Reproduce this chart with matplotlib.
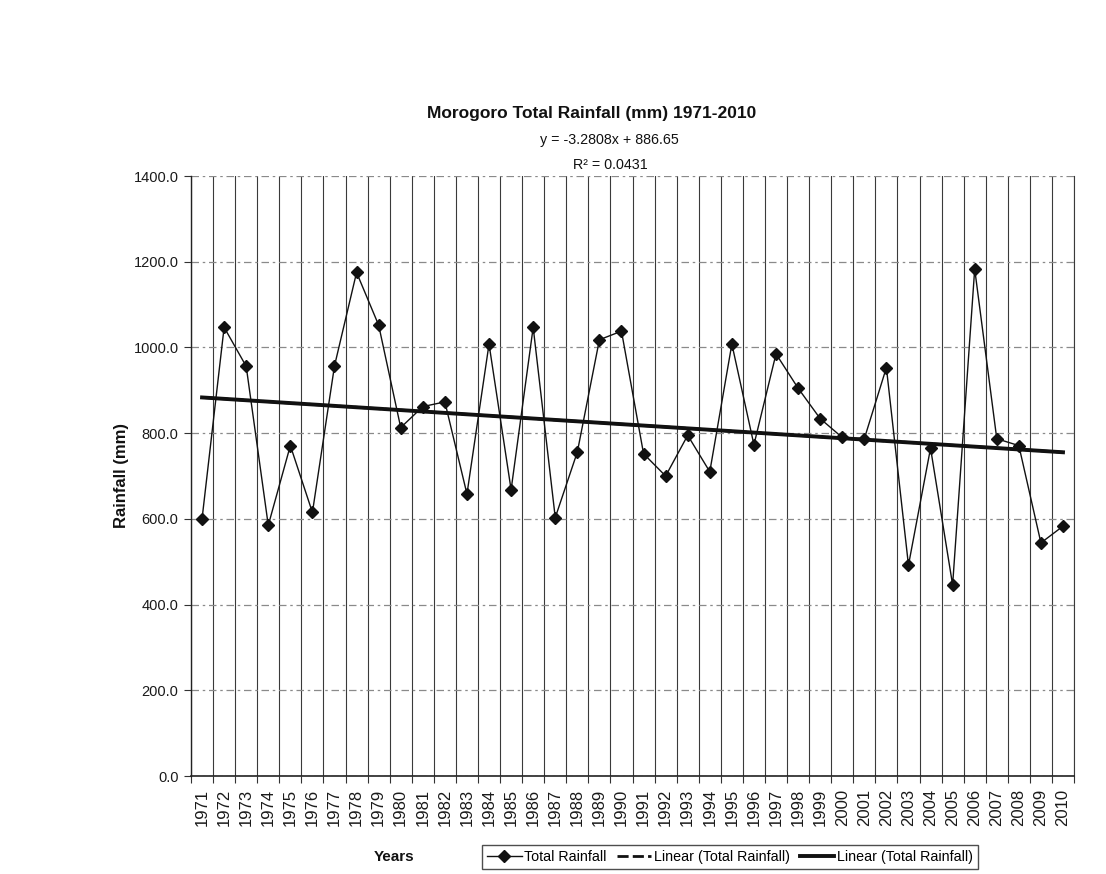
import matplotlib
matplotlib.use("Agg")
import matplotlib.pyplot as plt
from matplotlib.ticker import FixedLocator, FormatStrFormatter
import numpy as np

plt.rcParams["font.family"] = ["Liberation Sans", "DejaVu Sans"]

# Annual rainfall totals at Morogoro (mm)
years = list(range(1971, 2011))
rainfall = [
    600, 1047, 956, 585, 771, 615, 957, 1175, 1052, 813,
    862, 873, 658, 1008, 668, 1047, 603, 756, 1018, 1038,
    752, 700, 795, 710, 1008, 773, 985, 905, 834, 790,
    787, 953, 492, 765, 446, 1183, 787, 771, 544, 583,
]

# Linear trend reported with the chart (x = 1 for 1971)
trend_slope = -3.2808
trend_intercept = 886.65
r_squared = 0.0431

title = "Morogoro Total Rainfall (mm) 1971-2010"
y_ticks = [0, 200, 400, 600, 800, 1000, 1200, 1400]

fig = plt.figure(figsize=(11.06, 8.74), dpi=100)
fig.patch.set_facecolor("white")
ax = fig.add_axes([0.1727, 0.1121, 0.7984, 0.6865])

x = np.array(years)
idx = np.arange(1, len(years) + 1)
trend = trend_intercept + trend_slope * idx

ax.plot(x, rainfall, color="#111111", linewidth=1.0, marker="D",
        markersize=6, markerfacecolor="#111111", markeredgecolor="#111111",
        label="Total Rainfall", zorder=4)
ax.plot(x, trend, color="#111111", linewidth=2.0, linestyle=(0, (4, 1.5)),
        label="Linear (Total Rainfall)", zorder=3)
ax.plot(x, trend, color="#111111", linewidth=2.8,
        label="Linear (Total Rainfall)", zorder=5)

ax.set_xlim(years[0] - 0.5, years[-1] + 0.5)
ax.set_ylim(0, 1400)

# category labels centred in each column, gridlines on column boundaries
ax.xaxis.set_major_locator(FixedLocator(years))
ax.set_xticklabels([str(yr) for yr in years], rotation=90, fontsize=12,
                   color="#1a1a1a")
ax.xaxis.set_minor_locator(FixedLocator(np.arange(years[0] - 0.5, years[-1] + 1.0, 1.0)))
ax.tick_params(axis="x", which="major", length=0, pad=9)
ax.tick_params(axis="x", which="minor", length=5, width=0.8, color="#333333")
ax.grid(True, axis="x", which="minor", color="#3a3a3a", linewidth=0.8)

ax.yaxis.set_major_locator(FixedLocator(y_ticks))
ax.yaxis.set_major_formatter(FormatStrFormatter("%.1f"))
ax.tick_params(axis="y", which="major", length=5, width=0.8, labelsize=10.5,
               color="#333333", pad=4, labelcolor="#1a1a1a")
ax.grid(True, axis="y", which="major", color="#8a8a8a", linewidth=0.9,
        linestyle=(0, (6, 3, 2, 3)))
ax.set_axisbelow(True)

ax.spines["top"].set_visible(False)
ax.spines["right"].set_color("#3a3a3a")
ax.spines["right"].set_linewidth(0.8)
ax.spines["left"].set_color("#222222")
ax.spines["bottom"].set_color("#222222")
ax.spines["left"].set_linewidth(1.0)
ax.spines["bottom"].set_linewidth(1.2)

fig.text(0.1103, 0.4565, "Rainfall (mm)", rotation=90, fontsize=12,
         fontweight="bold", ha="center", va="center", color="#111111")
fig.text(0.356, 0.0195, "Years", fontsize=11, fontweight="bold",
         ha="center", va="center", color="#111111")

fig.text(0.535, 0.8707, title, fontsize=12.5, fontweight="bold",
         ha="center", va="center", color="#111111")
fig.text(0.5506, 0.8398, f"y = {trend_slope}x + {trend_intercept}",
         fontsize=10.3, ha="center", va="center", color="#111111")
fig.text(0.5515, 0.8112, f"R\u00b2 = {r_squared}", fontsize=10.3,
         ha="center", va="center", color="#111111")

leg = fig.legend(loc="lower left", bbox_to_anchor=(0.436, 0.006), ncol=3,
                 fontsize=10.3, frameon=True, fancybox=False, handlelength=2.4,
                 handletextpad=0.2, columnspacing=0.7, borderpad=0.35,
                 borderaxespad=0)
leg.get_frame().set_edgecolor("#222222")
leg.get_frame().set_linewidth(1.0)

fig.savefig("out.png", dpi=100, facecolor="white")
